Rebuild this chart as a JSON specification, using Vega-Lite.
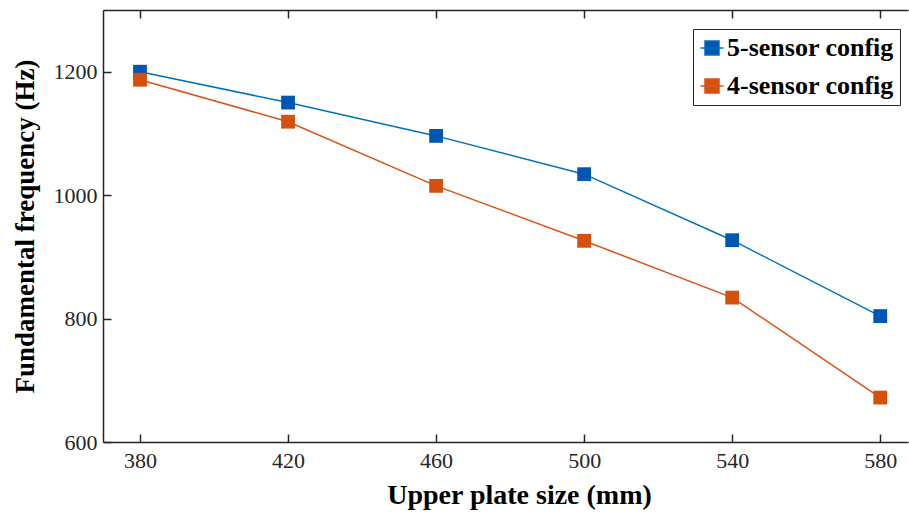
{
  "$schema": "https://vega.github.io/schema/vega-lite/v6.json",
  "autosize": {"type": "none"},
  "padding": {"left": 103, "top": 10, "right": 1, "bottom": 77},
  "width": 805,
  "height": 432,
  "background": "white",
  "config": {
    "view": {"stroke": null},
    "font": "Liberation Serif",
    "axis": {
      "grid": false,
      "domainColor": "#262626",
      "domainWidth": 1.5,
      "tickColor": "#262626",
      "tickWidth": 1.5,
      "tickSize": -8,
      "labelFont": "Liberation Serif",
      "labelFontSize": 22,
      "labelColor": "#262626",
      "titleFont": "Liberation Serif",
      "titleFontSize": 27,
      "titleFontWeight": "bold",
      "titleColor": "#000000"
    }
  },
  "data": {
    "values": [
      {"size": 380, "freq": 1200, "config": "5-sensor config"},
      {"size": 420, "freq": 1150, "config": "5-sensor config"},
      {"size": 460, "freq": 1096, "config": "5-sensor config"},
      {"size": 500, "freq": 1034, "config": "5-sensor config"},
      {"size": 540, "freq": 927, "config": "5-sensor config"},
      {"size": 580, "freq": 804, "config": "5-sensor config"},
      {"size": 380, "freq": 1187, "config": "4-sensor config"},
      {"size": 420, "freq": 1119, "config": "4-sensor config"},
      {"size": 460, "freq": 1015, "config": "4-sensor config"},
      {"size": 500, "freq": 926, "config": "4-sensor config"},
      {"size": 540, "freq": 834, "config": "4-sensor config"},
      {"size": 580, "freq": 672, "config": "4-sensor config"}
    ]
  },
  "encoding": {
    "y": {
      "field": "freq", "type": "quantitative",
      "scale": {"domain": [600, 1300], "nice": false, "zero": false},
      "axis": {"values": [600, 800, 1000, 1200], "format": "d", "title": "Fundamental frequency (Hz)", "labelPadding": 14, "titlePadding": 14}
    }
  },
  "layer": [
    {
      "mark": {"type": "point", "opacity": 0},
      "encoding": {
        "x": {
          "field": "size", "type": "quantitative",
          "scale": {"domain": [370, 587.5], "nice": false, "zero": false},
          "axis": {"orient": "top", "values": [380, 420, 460, 500, 540, 580], "labels": false, "title": null}
        }
      }
    },
    {
      "mark": {"type": "line", "strokeWidth": 1.5},
      "encoding": {
        "x": {
          "field": "size", "type": "quantitative",
          "scale": {"domain": [370, 587.5], "nice": false, "zero": false},
          "axis": {"values": [380, 420, 460, 500, 540, 580], "title": "Upper plate size (mm)", "titleFontSize": 28, "titleX": 416, "titleAlign": "center", "labelPadding": 16, "titlePadding": 10}
        },
        "color": {
          "field": "config", "type": "nominal",
          "scale": {"domain": ["5-sensor config", "4-sensor config"], "range": ["#0072BD", "#D95319"]},
          "legend": {
            "title": null,
            "orient": "none",
            "legendX": 590,
            "legendY": 19,
            "strokeColor": "#262626",
            "fillColor": "white",
            "padding": 6,
            "rowPadding": 12,
            "labelFont": "Liberation Serif",
            "labelFontSize": 26,
            "labelFontWeight": "bold",
            "labelColor": "#000000",
            "labelOffset": 2,
            "labelLimit": 400,
            "symbolType": "M-1,0H1M-0.61,-0.61H0.61V0.61H-0.61Z",
            "symbolSize": 529,
            "symbolStrokeWidth": 1.5,
            "encode": {
              "symbols": {"update": {"fill": {"signal": "datum.value === '5-sensor config' ? '#0056B3' : '#D4500B'"}, "stroke": {"signal": "datum.value === '5-sensor config' ? '#0072BD' : '#D95319'"}, "opacity": {"value": 1}}}
            }
          }
        }
      }
    },
    {
      "mark": {"type": "point", "shape": "square", "filled": true, "size": 190, "opacity": 1},
      "encoding": {
        "x": {"field": "size", "type": "quantitative", "axis": null},
        "fill": {
          "field": "config", "type": "nominal",
          "scale": {"domain": ["5-sensor config", "4-sensor config"], "range": ["#0056B3", "#D4500B"]},
          "legend": null
        }
      }
    }
  ],
  "resolve": {"axis": {"x": "independent"}}
}
